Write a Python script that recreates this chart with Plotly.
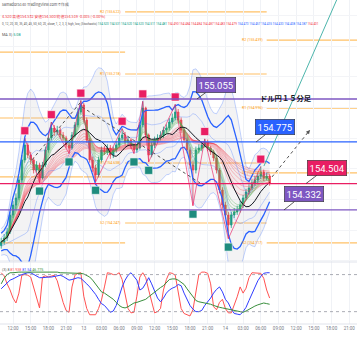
import numpy as np
import pandas as pd
import plotly.graph_objects as go
from plotly.subplots import make_subplots

# ---------------- data (USD/JPY, 30-min bars) ----------------
start_time = "2024-11-12 10:00"
first_open = 154.100
close = [154.123, 154.149, 154.189, 154.299, 154.364, 154.410, 154.527, 154.658, 154.755, 154.690,
         154.658, 154.592, 154.625, 154.540, 154.625, 154.723, 154.801, 154.866, 154.840, 154.853,
         154.820, 154.801, 154.755, 154.736, 154.820, 154.886, 154.970, 155.016, 154.918, 154.788,
         154.658, 154.605, 154.560, 154.658, 154.723, 154.710, 154.736, 154.690, 154.723, 154.755,
         154.801, 154.820, 154.775, 154.788, 154.755, 154.723, 154.736, 154.886, 154.996, 154.820,
         154.690, 154.755, 154.788, 154.801, 154.820, 154.853, 154.866, 154.905, 154.931, 154.970,
         154.918, 154.853, 154.788, 154.723, 154.625, 154.592, 154.723, 154.736, 154.755, 154.775,
         154.736, 154.710, 154.671, 154.592, 154.462, 154.364, 154.299, 154.234, 154.299, 154.319,
         154.332, 154.364, 154.410, 154.449, 154.475, 154.508, 154.527, 154.553, 154.579, 154.540,
         154.553, 154.504]
high = [154.150, 154.175, 154.215, 154.320, 154.390, 154.440, 154.550, 154.690, 154.800, 154.770,
        154.710, 154.675, 154.650, 154.640, 154.645, 154.745, 154.830, 154.905, 154.885, 154.880,
        154.870, 154.840, 154.815, 154.770, 154.840, 154.905, 154.995, 155.045, 155.030, 154.935,
        154.800, 154.680, 154.625, 154.680, 154.745, 154.750, 154.760, 154.755, 154.745, 154.780,
        154.830, 154.862, 154.840, 154.810, 154.800, 154.770, 154.760, 154.905, 155.040, 155.005,
        154.830, 154.775, 154.810, 154.825, 154.845, 154.875, 154.890, 154.930, 154.960, 155.020,
        154.990, 154.935, 154.870, 154.805, 154.740, 154.650, 154.745, 154.760, 154.780, 154.795,
        154.790, 154.750, 154.725, 154.690, 154.605, 154.480, 154.385, 154.320, 154.320, 154.345,
        154.360, 154.390, 154.430, 154.470, 154.500, 154.530, 154.555, 154.580, 154.615, 154.595,
        154.575, 154.565]
low = [154.080, 154.105, 154.130, 154.175, 154.280, 154.330, 154.395, 154.510, 154.640, 154.670,
       154.630, 154.570, 154.575, 154.510, 154.530, 154.610, 154.705, 154.785, 154.815, 154.820,
       154.800, 154.780, 154.735, 154.700, 154.725, 154.805, 154.870, 154.955, 154.900, 154.770,
       154.640, 154.580, 154.515, 154.545, 154.640, 154.690, 154.690, 154.665, 154.670, 154.705,
       154.740, 154.785, 154.755, 154.750, 154.730, 154.700, 154.705, 154.725, 154.870, 154.800,
       154.645, 154.675, 154.735, 154.770, 154.785, 154.800, 154.835, 154.850, 154.890, 154.915,
       154.900, 154.835, 154.770, 154.700, 154.600, 154.360, 154.570, 154.700, 154.715, 154.740,
       154.715, 154.690, 154.650, 154.570, 154.440, 154.340, 154.275, 154.145, 154.215, 154.280,
       154.300, 154.315, 154.345, 154.395, 154.430, 154.460, 154.490, 154.505, 154.535, 154.520,
       154.525, 154.490]

pivot_high_idx = [8, 17, 27, 41, 48, 59, 69, 88]
pivot_low_idx = [13, 23, 32, 45, 50, 65, 77]

stoch_red = [83, 78, 65, 55, 42, 34, 50, 79, 80, 79, 76, 58, 40, 26, 76, 78, 76, 77, 79, 70,
             50, 35, 22, 19, 60, 79, 82, 83, 45, 25, 15, 15, 15, 25, 39, 60, 83, 82, 80, 80,
             83, 72, 50, 25, 18, 19, 45, 76, 83, 75, 55, 35, 18, 20, 25, 55, 72, 83, 82, 79,
             50, 25, 17, 15, 13, 23, 55, 80, 84, 84, 82, 65, 28, 23, 35, 40, 25, 18, 18, 30,
             44, 60, 50, 58, 75, 83, 83, 83, 82, 74, 55, 42]
stoch_blue = [57, 62, 67, 71, 73, 76, 78, 80, 82, 83, 83, 80, 77, 75, 75, 76, 76, 76, 77, 78,
              79, 77, 74, 71, 72, 74, 75, 74, 70, 65, 60, 54, 48, 40, 33, 30, 24, 19, 21, 30,
              45, 60, 71, 79, 83, 77, 71, 55, 58, 66, 75, 65, 52, 42, 36, 42, 50, 55, 58, 60,
              64, 62, 50, 39, 30, 24, 20, 20, 22, 30, 36, 42, 50, 56, 60, 52, 40, 34, 24, 17,
              16, 15, 20, 27, 38, 48, 60, 70, 77, 82, 83, 83]
stoch_green = [65, 74, 80, 83, 83, 84, 84, 84, 84, 85, 85, 85, 85, 84, 84, 84, 84, 84, 84, 84,
               83, 83, 83, 83, 83, 83, 82, 82, 81, 79, 76, 71, 64, 57, 52, 50, 47, 44, 40, 35,
               30, 27, 26, 28, 31, 34, 35, 37, 38, 40, 44, 48, 52, 56, 59, 62, 67, 72, 73, 73,
               71, 68, 64, 57, 50, 44, 38, 36, 35, 34, 34, 32, 30, 28, 27, 26, 25, 24, 23, 22,
               21, 20, 19, 21, 24, 27, 29, 31, 33, 34, 33, 32]

# key horizontal levels
level_prices = [155.055, 154.775, 154.504, 154.332]
level_colors = ["#7e57c2", "#2962ff", "#e91e63", "#7e57c2"]
level_label_times = ["2024-11-13 19:11", "2024-11-14 05:12", "2024-11-14 13:40", "2024-11-14 09:56"]

# daily pivot segments (07:00 to 07:00)
pivot_day_bounds = ["2024-11-12 07:00", "2024-11-13 07:00", "2024-11-14 07:00", "2024-11-15 07:00"]
pivot_levels = [[155.361, 154.931, 154.547, 154.117],
                [155.622, 155.218, 154.638, 154.247],
                [155.439, 154.996, 154.573, 154.117]]
pivot_names = ["R2", "R1", "S1", "S2"]

# drawings
teal_line = (["2024-11-14 06:32", "2024-11-14 19:36"], [154.618, 155.765])
dotted_up1 = (["2024-11-12 15:13", "2024-11-12 23:21"], [154.658, 155.029])
dotted_down = (["2024-11-12 23:42", "2024-11-13 19:42"], [155.003, 154.508])
dotted_arrow = (["2024-11-14 07:54", "2024-11-14 14:20"], [154.547, 154.853])

tick_times = pd.date_range("2024-11-12 12:00", "2024-11-14 21:00", freq="3h")
tick_text = ["12:00", "15:00", "18:00", "21:00", "13", "03:00", "06:00", "09:00", "12:00", "15:00",
             "18:00", "21:00", "14", "03:00", "06:00", "09:00", "12:00", "15:00", "18:00", "21:00"]

# ---------------- derived ----------------
times = pd.date_range(start_time, periods=len(close), freq="30min")
open_ = [first_open] + close[:-1]
s = pd.Series(close, index=times)
h_s = pd.Series(high, index=times)
l_s = pd.Series(low, index=times)
win = 10
mid = s.rolling(win, min_periods=1).mean()
m1 = ((h_s + l_s + s) / 3).rolling(win, min_periods=1).mean()
m2 = ((h_s ** 2 + l_s ** 2 + s ** 2) / 3).rolling(win, min_periods=1).mean()
sd = np.sqrt((m2 - m1 ** 2).clip(lower=0))
short_spans = [2, 3, 4, 5, 6, 7]
long_spans = [12, 15, 18, 22, 26, 30, 35, 40, 45]

fig = make_subplots(rows=2, cols=1, shared_xaxes=True, vertical_spacing=0)

# BB shading
fig.add_trace(go.Scatter(x=times, y=mid + 3 * sd, mode="lines", line=dict(width=0.8, color="rgba(41,98,255,0.35)"),
                         hoverinfo="skip", showlegend=False), 1, 1)
fig.add_trace(go.Scatter(x=times, y=mid - 3 * sd, mode="lines", line=dict(width=0.8, color="rgba(41,98,255,0.35)"),
                         fill="tonexty", fillcolor="rgba(160,160,170,0.13)", hoverinfo="skip", showlegend=False), 1, 1)

# red ribbon
ema_long = [s.ewm(span=k, adjust=True).mean() for k in long_spans]
fig.add_trace(go.Scatter(x=times, y=ema_long[0], mode="lines", line=dict(width=0), hoverinfo="skip",
                         showlegend=False), 1, 1)
fig.add_trace(go.Scatter(x=times, y=ema_long[-1], mode="lines", line=dict(width=0), fill="tonexty",
                         fillcolor="rgba(242,54,69,0.05)", hoverinfo="skip", showlegend=False), 1, 1)
for e in ema_long:
    fig.add_trace(go.Scatter(x=times, y=e, mode="lines", line=dict(width=0.6, color="rgba(242,54,69,0.5)"),
                             hoverinfo="skip", showlegend=False), 1, 1)
for k in short_spans:
    fig.add_trace(go.Scatter(x=times, y=s.ewm(span=k, adjust=True).mean(), mode="lines",
                             line=dict(width=0.6, color="rgba(76,175,80,0.6)"), hoverinfo="skip",
                             showlegend=False), 1, 1)

# BB lines
for m, c, w in [(1, "rgba(41,98,255,0.35)", 0.8), (2, "#2962ff", 1.3)]:
    fig.add_trace(go.Scatter(x=times, y=mid + m * sd, mode="lines", line=dict(width=w, color=c),
                             hoverinfo="skip", showlegend=False), 1, 1)
    fig.add_trace(go.Scatter(x=times, y=mid - m * sd, mode="lines", line=dict(width=w, color=c),
                             hoverinfo="skip", showlegend=False), 1, 1)
fig.add_trace(go.Scatter(x=times, y=mid, mode="lines", line=dict(width=1, color="#131722"),
                         hoverinfo="skip", showlegend=False), 1, 1)

# zigzag
zz_idx = sorted([(i, high[i]) for i in pivot_high_idx] + [(i, low[i]) for i in pivot_low_idx])
fig.add_trace(go.Scatter(x=[times[i] for i, _ in zz_idx], y=[v for _, v in zz_idx], mode="lines",
                         line=dict(width=0.8, color="rgba(233,30,99,0.8)"), hoverinfo="skip",
                         showlegend=False), 1, 1)

# candles
fig.add_trace(go.Candlestick(x=times, open=open_, high=high, low=low, close=close,
                             increasing=dict(line=dict(color="#089981", width=0.8), fillcolor="#089981"),
                             decreasing=dict(line=dict(color="#f23645", width=0.8), fillcolor="#f23645"),
                             whiskerwidth=0, showlegend=False), 1, 1)

# pivot markers
fig.add_trace(go.Scatter(x=[times[i] for i in pivot_high_idx], y=[high[i] + 0.048 for i in pivot_high_idx],
                         mode="markers", marker=dict(symbol="square", size=8, color="#e91e63",
                                                     line=dict(width=0.6, color="#ffffff")),
                         showlegend=False, hoverinfo="skip"), 1, 1)
fig.add_trace(go.Scatter(x=[times[i] for i in pivot_low_idx], y=[low[i] - 0.055 for i in pivot_low_idx],
                         mode="markers", marker=dict(symbol="square", size=8, color="#1e8c7e",
                                                     line=dict(width=0.6, color="#ffffff")),
                         showlegend=False, hoverinfo="skip"), 1, 1)

# oscillator
for ser, col in [(stoch_red, "#ff5252"), (stoch_blue, "#2f3cff"), (stoch_green, "#388e3c")]:
    fig.add_trace(go.Scatter(x=times, y=ser, mode="lines", line=dict(width=1, color=col),
                             hoverinfo="skip", showlegend=False), 2, 1)
for lv in [80, 20]:
    fig.add_shape(type="line", xref="x2 domain", x0=0, x1=1, yref="y2", y0=lv, y1=lv,
                  line=dict(color="#9598a1", width=0.8, dash="dot"))

# pivot segments
for d, lvls in enumerate(pivot_levels):
    for j, p in enumerate(lvls):
        fig.add_shape(type="line", xref="x", yref="y", x0=pivot_day_bounds[d], x1=pivot_day_bounds[d + 1],
                      y0=p, y1=p, line=dict(color="rgba(255,152,0,0.6)", width=1.2), layer="below")
        if d > 0:
            fig.add_annotation(x=pivot_day_bounds[d], y=p, xref="x", yref="y", text=f"{pivot_names[j]} ({p:.3f})",
                               showarrow=False, xanchor="right", xshift=-2,
                               font=dict(size=3.6, color="#ff9800", family="Roboto"))

# key levels
for p, c in zip(level_prices, level_colors):
    fig.add_shape(type="line", xref="x domain", x0=0, x1=1, yref="y", y0=p, y1=p, line=dict(color=c, width=1.3))

label_offsets = [(19, -14), (19, -15), (21, -16), (20, -16)]
for p, c, t, (ax, ay) in zip(level_prices, level_colors, level_label_times, label_offsets):
    fig.add_annotation(x=t, y=p, xref="x", yref="y", text=f"{p:.3f}", showarrow=True, arrowhead=0,
                       arrowwidth=0.8, arrowcolor="#333333", ax=ax, ay=ay, bgcolor=c, bordercolor="#333333",
                       borderwidth=0.6, borderpad=2, font=dict(size=9.5, color="white", family="Roboto"))

# drawings
fig.add_shape(type="line", xref="x", yref="y", x0=teal_line[0][0], x1=teal_line[0][1], y0=teal_line[1][0],
              y1=teal_line[1][1], line=dict(color="#4db6ac", width=1))
for dl in [dotted_up1, dotted_down, dotted_arrow]:
    fig.add_shape(type="line", xref="x", yref="y", x0=dl[0][0], x1=dl[0][1], y0=dl[1][0], y1=dl[1][1],
                  line=dict(color="#555555", width=1, dash="dot"))
fig.add_annotation(x=dotted_arrow[0][1], y=dotted_arrow[1][1], xref="x", yref="y", text="", showarrow=True,
                   arrowhead=2, arrowsize=1, arrowwidth=0.8, arrowcolor="#555555", ax=-4, ay=5)

fig.add_annotation(x=258 / 357, y=(324 - 91) / 324, xref="paper", yref="paper", text="<b>ドル円１５分足</b>",
                   showarrow=False, xanchor="left", font=dict(size=7.3, color="#131722", family="Noto Sans CJK JP"))

# header
hdr = dict(xref="paper", yref="paper", showarrow=False, xanchor="left", yanchor="middle", x=0)
fig.add_annotation(**hdr, y=(324 - 5) / 324, text="samador5140 TradingView.comで作成",
                   font=dict(size=3.8, color="#555555", family="Noto Sans CJK JP"))
fig.add_annotation(**hdr, y=(324 - 16) / 324,
                   text="4.520 高値154.532 安値154.500 終値154.519 -0.005 (-0.00%)",
                   font=dict(size=3.8, color="#f23645", family="Noto Sans CJK JP"))
fig.add_annotation(**hdr, y=(324 - 24) / 324,
                   text=("0, 12, 20, 30, 35, 40, 45, 50, 60, 20, close, 1, 2, 3, 3, high, low, (Stochastic) "
                         "<span style='color:#089981'>154.520 154.531 154.520 154.520 154.511 154.481</span> "
                         "<span style='color:#f23645'>154.490 154.484 154.484 154.487 154.483 154.479</span> "
                         "<span style='color:#2962ff'>154.473 154.457 154.435 154.433 154.408 154.387</span> "
                         "<span style='color:#f23645'>154.401</span>"),
                   font=dict(size=3.0, color="#555555", family="Roboto"))
fig.add_annotation(**hdr, y=(324 - 34) / 324, text="MA 3) <span style='color:#089981'>5.08</span>",
                   font=dict(size=3.8, color="#555555", family="Roboto"))
fig.add_annotation(**hdr, y=(324 - 270) / 324,
                   text=("(3) 8 <span style='color:#ff5252'>81.938</span> "
                         "<span style='color:#2f3cff'>81.54</span> <span style='color:#388e3c'>46.775</span>"),
                   font=dict(size=3.6, color="#555555", family="Roboto"))

x_range = ["2024-11-12 09:47:50", "2024-11-14 22:18:30"]
fig.update_layout(width=357, height=357, margin=dict(l=0, r=0, t=0, b=33), plot_bgcolor="white",
                  paper_bgcolor="white", showlegend=False, hovermode=False)
fig.update_xaxes(range=x_range, tickvals=tick_times, ticktext=tick_text, showgrid=True, gridcolor="#f0f2f6",
                 gridwidth=1, zeroline=False, showline=False, rangeslider_visible=False)
fig.update_xaxes(showticklabels=False, row=1, col=1)
fig.update_xaxes(showticklabels=True, tickfont=dict(size=4.5, color="#787b86", family="Roboto"), ticks="",
                 row=2, col=1)
fig.update_layout(yaxis=dict(domain=[0.1914, 1], range=[153.993, 155.700], showticklabels=False,
                             showgrid=True, gridcolor="#f3f4f7", dtick=0.2, zeroline=False),
                  yaxis2=dict(domain=[0, 0.1914], range=[0, 100.4], showticklabels=False,
                              showgrid=False, zeroline=False))
fig.add_shape(type="line", xref="paper", yref="paper", x0=0, x1=1, y0=0.1914, y1=0.1914,
              line=dict(color="#e0e3eb", width=1))
fig.add_shape(type="line", xref="paper", yref="paper", x0=0, x1=1, y0=0, y1=0,
              line=dict(color="#e0e3eb", width=1))

fig.write_html("out.html", config={"displayModeBar": False, "staticPlot": True},
               post_script="document.body.style.margin='0';document.body.style.overflow='hidden';")
